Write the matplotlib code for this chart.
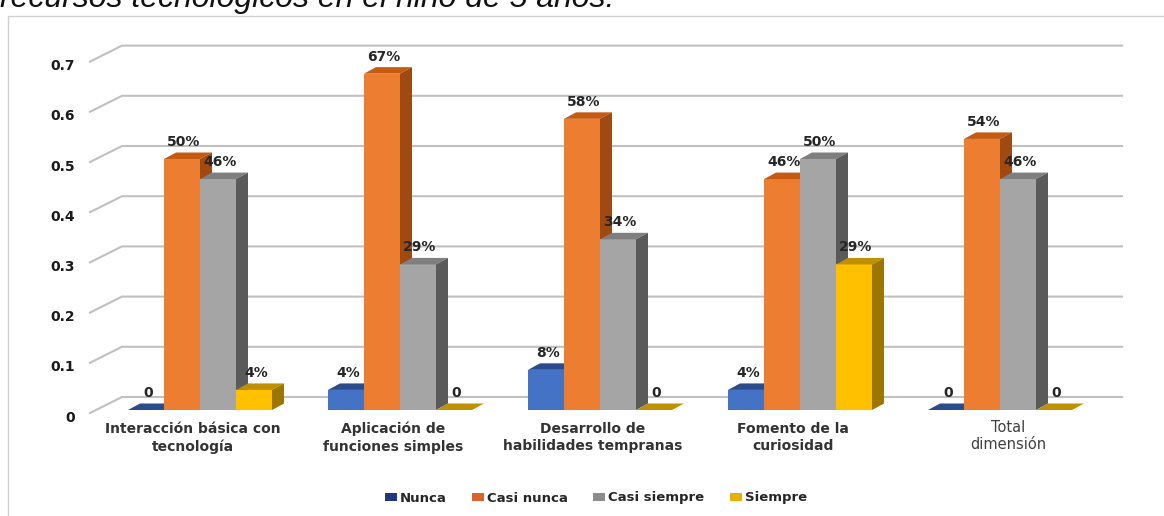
import numpy as np
import matplotlib.pyplot as plt
from matplotlib.patches import Polygon, Patch, Rectangle
from matplotlib.transforms import ScaledTranslation

# data
categorias = ["Interacción básica con\ntecnología", "Aplicación de\nfunciones simples",
              "Desarrollo de\nhabilidades tempranas", "Fomento de la\ncuriosidad",
              "Total\ndimensión"]
series = ["Nunca", "Casi nunca", "Casi siempre", "Siempre"]
nunca = [0.0, 0.04, 0.08, 0.04, 0.0]
casi_nunca = [0.50, 0.67, 0.58, 0.46, 0.54]
casi_siempre = [0.46, 0.29, 0.34, 0.50, 0.46]
siempre = [0.04, 0.0, 0.0, 0.29, 0.0]
y_ticks = [0, 0.1, 0.2, 0.3, 0.4, 0.5, 0.6, 0.7]
y_ticklabels = ["0", "0.1", "0.2", "0.3", "0.4", "0.5", "0.6", "0.7"]
titulo = "recursos tecnológicos en el niño de 5 años."

valores = [nunca, casi_nunca, casi_siempre, siempre]

# front / top / side colours of the 3d columns
frente = ["#4472C4", "#ED7D31", "#A5A5A5", "#FFC000"]
tapa = ["#2B4C8C", "#C55A11", "#7F7F7F", "#BF9000"]
lado = ["#233F78", "#9E4A12", "#5A5A5A", "#9C7600"]
leyenda_col = ["#1F3A7A", "#D8632B", "#8C8C8C", "#E6B000"]

W, H, DPI = 1164, 516, 100
fig = plt.figure(figsize=(W / DPI, H / DPI), dpi=DPI)

# plot area in pixels
ax_l, ax_t, ax_r, ax_b = 90, 20, 1164, 516
ax = fig.add_axes([ax_l / W, 1 - ax_b / H, (ax_r - ax_l) / W, (ax_b - ax_t) / H])
x0px, gstep = 200, 200      # first group centre, group spacing
y0px, yscale = 410, 502     # zero line, pixels per unit
ax.set_xlim((ax_l - x0px) / gstep, (ax_r - x0px) / gstep)
ax.set_ylim((y0px - ax_b) / yscale, (y0px - ax_t) / yscale)
px = 1.0 / gstep
py = 1.0 / yscale

bw = 36 * px                # column width
dx, dy = 12 * px, 6.5 * py  # column depth

# back wall gridlines
for v in y_ticks:
    ax.plot([(90 - x0px) * px, (122 - x0px) * px, (1122 - x0px) * px],
            [v - 3 * py, v + 13 * py, v + 13 * py],
            color="#C0C0C0", lw=1.5, zorder=1, clip_on=False)

xg = np.arange(len(categorias))
for j, vals in enumerate(valores):
    xs = xg + (j - 1.5) * bw
    z = 3 + j
    ax.bar(xs, vals, width=bw, color=frente[j], zorder=z, linewidth=0)
    for x, v in zip(xs, vals):
        xl, xr = x - bw / 2, x + bw / 2
        ax.add_patch(Polygon([(xl, v), (xr, v), (xr + dx, v + dy), (xl + dx, v + dy)],
                             closed=True, color=tapa[j], lw=0, zorder=z + 0.5))
        if v > 0:
            ax.add_patch(Polygon([(xr, 0), (xr, v), (xr + dx, v + dy), (xr + dx, dy)],
                                 closed=True, color=lado[j], lw=0, zorder=z + 0.5))
        lbl = "0" if v == 0 else f"{round(v * 100)}%"
        ax.annotate(lbl, (x, v), xytext=(2, 13), textcoords="offset pixels",
                    ha="center", va="baseline", fontsize=10, fontweight="bold",
                    color="#262626", zorder=20)

for i, cat in enumerate(categorias):
    if i < len(categorias) - 1:
        ax.annotate(cat, (i, 0), xytext=(-7, -12), textcoords="offset pixels",
                    ha="center", va="top", fontsize=10, fontweight="bold",
                    color="#333333", linespacing=1.3)
    else:
        ax.annotate(cat, (i, 0), xytext=(8, -10), textcoords="offset pixels",
                    ha="center", va="top", fontsize=10.5, color="#404040",
                    linespacing=1.2)

ax.set_yticks(y_ticks, labels=y_ticklabels)
ax.set_xticks([])
ax.tick_params(axis="y", length=0, pad=11)
for t in ax.get_yticklabels():
    t.set_fontweight("bold")
    t.set_fontsize(10)
    t.set_color("#1A1A1A")
    t.set_transform(t.get_transform() + ScaledTranslation(0, -6 / DPI, fig.dpi_scale_trans))
for s in ax.spines.values():
    s.set_visible(False)
ax.patch.set_alpha(0)

handles = [Patch(facecolor=c, edgecolor="none") for c in leyenda_col]
leg = fig.legend(handles, series, loc="center", bbox_to_anchor=(596 / W, 1 - 498 / H),
                 ncol=4, frameon=False, fontsize=9.5, handlelength=0.9, handleheight=0.6,
                 handletextpad=0.25, columnspacing=1.9)
for t in leg.get_texts():
    t.set_fontweight("bold")
    t.set_color("#262626")

# chart frame and the caption cut at the top
fig.add_artist(Rectangle((8 / W, -0.1), 1.2, 1.1 - 16 / H, transform=fig.transFigure,
                         fill=False, edgecolor="#D0D0D0", lw=1, clip_on=False))
fig.text(0.0, 1 - 7 / H, titulo, fontsize=23, style="italic",
         family="Liberation Sans", va="baseline", ha="left", color="#111111")

fig.savefig("out.png", dpi=DPI)
